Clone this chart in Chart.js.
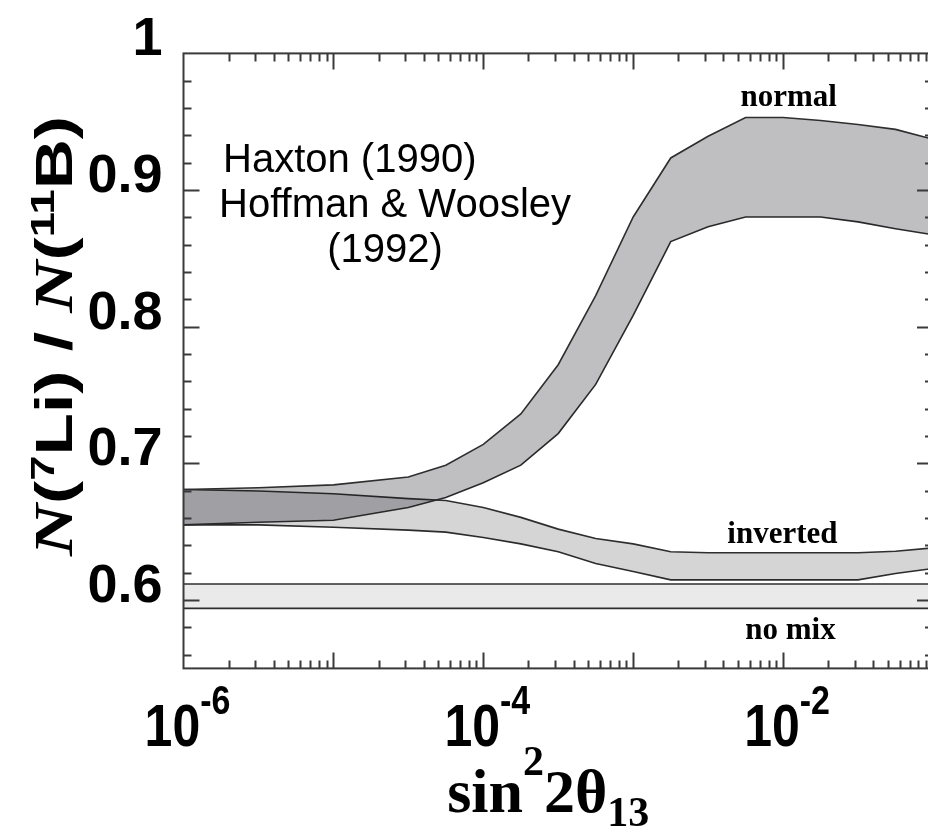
<!DOCTYPE html>
<html>
<head>
<meta charset="utf-8">
<script src="https://cdn.jsdelivr.net/npm/chart.js@4.4.0/dist/chart.umd.min.js"></script>
<style>
  html, body { margin: 0; padding: 0; overflow: hidden; background: #ffffff; }
  #wrap { position: relative; width: 940px; height: 833px; }
</style>
</head>
<body>
<div id="wrap"><canvas id="chart"></canvas></div>
<script>
// sin^2(2 theta_13) sample points (log axis)
const xPoints = [1e-6, 3.16e-6, 1e-5, 3.16e-5, 5.62e-5, 1e-4, 1.78e-4, 3.16e-4, 5.62e-4,
                 1e-3, 1.78e-3, 3.16e-3, 5.62e-3, 1e-2, 1.78e-2, 3.16e-2, 5.62e-2, 1e-1];

// N(7Li)/N(11B) bands
const normalUpper   = [0.6809, 0.6822, 0.6843, 0.6901, 0.6987, 0.7139, 0.7362, 0.7722, 0.8227,
                       0.8803, 0.9235, 0.9394, 0.9531, 0.9531, 0.9509, 0.9480, 0.9444, 0.9372];
const normalLower   = [0.6550, 0.6569, 0.6584, 0.6677, 0.6750, 0.6858, 0.6987, 0.7218, 0.7578,
                       0.8083, 0.8623, 0.8731, 0.8803, 0.8803, 0.8803, 0.8767, 0.8717, 0.8673];
const invertedUpper = [0.6809, 0.6798, 0.6778, 0.6742, 0.6728, 0.6677, 0.6605, 0.6519, 0.6451,
                       0.6411, 0.6353, 0.6346, 0.6346, 0.6346, 0.6346, 0.6346, 0.6357, 0.6382];
const invertedLower = [0.6550, 0.6550, 0.6533, 0.6512, 0.6497, 0.6458, 0.6411, 0.6353, 0.6267,
                       0.6209, 0.6148, 0.6148, 0.6148, 0.6148, 0.6148, 0.6148, 0.6195, 0.6231];
const noMixX     = [1e-6, 1e-1];
const noMixUpper = [0.6118, 0.6118];
const noMixLower = [0.5939, 0.5939];

// axis ticks and labels
const xDecades = [1e-6, 1e-5, 1e-4, 1e-3, 1e-2, 1e-1];
const xLabelValues = [1e-6, 1e-4, 1e-2];
const xLabelExponents = ['-6', '-4', '-2'];
const yTickValues = [0.6, 0.7, 0.8, 0.9, 1.0];
const yTickLabels = ['0.6', '0.7', '0.8', '0.9', '1'];

// band names and annotation
const bandLabels = [
  { text: 'normal',   x: 1.09e-2, y: 0.9617 },
  { text: 'inverted', x: 0.99e-2, y: 0.6418 },
  { text: 'no mix',   x: 1.12e-2, y: 0.5712 }
];
const noteLines = ['Haxton (1990)', 'Hoffman & Woosley', '(1992)'];

const pts = (xs, ys) => xs.map((x, i) => ({ x: x, y: ys[i] }));

const LINE = '#2e2e2e';
const SANS = '"Liberation Sans", Arial, Helvetica, sans-serif';
const SERIF = '"Liberation Serif", "Times New Roman", Times, serif';

function band(upper, lower, xs, fill) {
  return [
    { data: pts(xs, upper), fill: '+1', backgroundColor: fill, borderColor: LINE,
      borderWidth: 1.6, pointRadius: 0, tension: 0 },
    { data: pts(xs, lower), fill: false, borderColor: LINE,
      borderWidth: 1.6, pointRadius: 0, tension: 0 }
  ];
}

// frame with inward ticks on all four sides
const framePlugin = {
  id: 'frame',
  afterDatasetsDraw(chart) {
    const { ctx, chartArea: a, scales: { x, y } } = chart;
    ctx.save();
    ctx.strokeStyle = '#3a3a3a';
    ctx.lineWidth = 2;
    ctx.beginPath();
    const tickX = (v, len) => {
      const p = Math.round(x.getPixelForValue(v)) + 0.5;
      ctx.moveTo(p, a.bottom); ctx.lineTo(p, a.bottom - len);
      ctx.moveTo(p, a.top);    ctx.lineTo(p, a.top + len);
    };
    const tickY = (v, len) => {
      const p = Math.round(y.getPixelForValue(v)) + 0.5;
      ctx.moveTo(a.left, p);  ctx.lineTo(a.left + len, p);
      ctx.moveTo(a.right, p); ctx.lineTo(a.right - len, p);
    };
    xDecades.forEach((d, i) => {
      if (i > 0 && i < xDecades.length - 1) tickX(d, 16);
      if (i < xDecades.length - 1) {
        for (let m = 2; m <= 9; m++) tickX(m * d, 8);
      }
    });
    for (let k = 28; k <= 49; k++) {
      const v = k / 50;
      tickY(v, k % 5 === 0 ? 16 : 8);
    }
    ctx.stroke();
    ctx.strokeRect(a.left, a.top, a.right - a.left, a.bottom - a.top);
    ctx.restore();
  }
};

// texts: x tick labels with exponents, axis titles, band names, note
const textPlugin = {
  id: 'texts',
  afterDraw(chart) {
    const { ctx, chartArea: a, scales: { x, y } } = chart;
    ctx.save();
    ctx.fillStyle = '#000';
    ctx.textBaseline = 'alphabetic';

    // x tick labels 10^n (slightly tall lettering)
    const vs = 1.2;
    xLabelValues.forEach((v, i) => {
      const base = 'bold 50px ' + SANS, sup = 'bold 34px ' + SANS;
      ctx.font = base; const w1 = ctx.measureText('10').width;
      ctx.font = sup;  const w2 = ctx.measureText(xLabelExponents[i]).width;
      const cx = x.getPixelForValue(v) + 4;
      const sx = cx - (w1 + w2) / 2;
      ctx.save();
      ctx.translate(0, 746);
      ctx.scale(1, vs);
      ctx.textAlign = 'left';
      ctx.font = base; ctx.fillText('10', sx, 0);
      ctx.font = sup;  ctx.fillText(xLabelExponents[i], sx + w1, -32 / vs);
      ctx.restore();
    });

    // x axis title: sin^2 2θ_13
    const segs = [
      { t: 'sin', f: 'bold 62px ' + SERIF, dy: 0 },
      { t: '2',   f: 'bold 42px ' + SERIF, dy: -37 },
      { t: '2',   f: 'bold 62px ' + SERIF, dy: 0 },
      { t: 'θ',   f: 'bold 62px ' + SERIF, dy: 0 },
      { t: '13',  f: 'bold 42px ' + SERIF, dy: 14 }
    ];
    let tw = 0;
    segs.forEach(s => { ctx.font = s.f; s.w = ctx.measureText(s.t).width; tw += s.w; });
    let sx = (a.left + a.right) / 2 - 10 - tw / 2;
    segs.forEach(s => { ctx.font = s.f; ctx.fillText(s.t, sx, 812 + s.dy); sx += s.w; });

    // y axis title: N(7Li) / N(11B), rotated and drawn tall
    const ySegs = [
      { t: 'N',   f: 'italic bold 54px ' + SERIF, dy: 0 },
      { t: '(',   f: 'bold 52px ' + SANS, dy: 0 },
      { t: '7',   f: 'bold 34px ' + SANS, dy: -18 },
      { t: 'Li',  f: 'bold 52px ' + SANS, dy: 0 },
      { t: ') / ', f: 'bold 52px ' + SANS, dy: 0 },
      { t: 'N',   f: 'italic bold 54px ' + SERIF, dy: 0 },
      { t: '(',   f: 'bold 52px ' + SANS, dy: 0 },
      { t: '11',  f: 'bold 34px ' + SANS, dy: -18 },
      { t: 'B)',  f: 'bold 52px ' + SANS, dy: 0 }
    ];
    let yw = 0;
    ySegs.forEach(s => { ctx.font = s.f; s.w = ctx.measureText(s.t).width; yw += s.w; });
    const titleLen = 440;
    ctx.save();
    ctx.translate(72, 336);
    ctx.rotate(-Math.PI / 2);
    ctx.scale(titleLen / yw, 1);
    let ty = -yw / 2;
    ySegs.forEach(s => { ctx.font = s.f; ctx.fillText(s.t, ty, s.dy); ty += s.w; });
    ctx.restore();

    // band names
    ctx.font = 'bold 31px ' + SERIF;
    ctx.textAlign = 'center';
    bandLabels.forEach(b => ctx.fillText(b.text, x.getPixelForValue(b.x), y.getPixelForValue(b.y)));

    // note
    ctx.font = '40px ' + SANS;
    ctx.textAlign = 'left';
    ctx.fillText(noteLines[0], 223, 172);
    ctx.fillText(noteLines[1], 219, 217);
    ctx.textAlign = 'center';
    ctx.fillText(noteLines[2], 385, 262);
    ctx.restore();
  }
};

new Chart(document.getElementById('chart'), {
  type: 'line',
  data: {
    datasets: [
      ...band(normalUpper, normalLower, xPoints, 'rgba(20,20,30,0.27)'),
      ...band(invertedUpper, invertedLower, xPoints, 'rgba(20,20,30,0.18)'),
      ...band(noMixUpper, noMixLower, noMixX, 'rgba(20,20,30,0.09)')
    ]
  },
  options: {
    responsive: true,
    maintainAspectRatio: false,
    animation: false,
    layout: { padding: { top: 44, right: 7, left: 0, bottom: 0 } },
    plugins: { legend: { display: false }, tooltip: { enabled: false } },
    scales: {
      x: {
        type: 'logarithmic',
        min: 1e-6, max: 1e-1,
        grid: { display: false, drawTicks: false },
        border: { display: false },
        ticks: { display: false },
        afterFit: s => { s.height = 164.6; }
      },
      y: {
        type: 'linear',
        min: 0.55, max: 1.0,
        grid: { display: false, drawTicks: false },
        border: { display: false },
        afterBuildTicks: s => { s.ticks = yTickValues.map(v => ({ value: v })); },
        afterFit: s => { s.width = 183.5; },
        ticks: {
          padding: 21,
          labelOffset: -13,
          color: '#000',
          font: { family: SANS, size: 54, weight: 'bold' },
          callback: (v) => yTickLabels[yTickValues.indexOf(Math.round(v * 10) / 10)]
        }
      }
    }
  },
  plugins: [framePlugin, textPlugin]
});
</script>
</body>
</html>
